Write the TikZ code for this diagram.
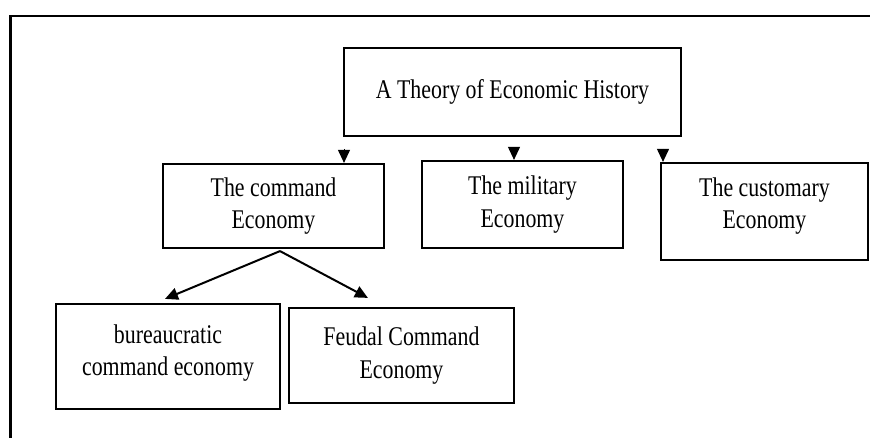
\documentclass[tikz,border=0pt]{standalone}
\usepackage{fontspec}
\setmainfont[FakeStretch=0.81]{Liberation Serif}
\usetikzlibrary{arrows.meta,calc}
\begin{document}
\begin{tikzpicture}[x=1pt,y=-1pt,
  box/.style={draw, line width=2.2pt, rectangle, inner sep=0pt, align=center,
              font=\fontsize{27}{32.5}\selectfont},
  txt/.style={align=center, inner sep=0pt, font=\fontsize{27}{32.5}\selectfont},
  tri/.style={-{Triangle[width=12pt,length=13pt]}, line width=1pt},
  link/.style={-{Triangle[width=12pt,length=13pt]}, line width=2pt},
  frameline/.style={line width=2.6pt, line join=miter}]
\useasboundingbox (0,0) rectangle (870,438);
\draw[frameline] (10.5,438) -- (10.5,16) -- (870,16);

\node[box, minimum width=337pt, minimum height=88pt] (top) at (512.5,92) {A Theory of Economic History};
\node[box, minimum width=221pt, minimum height=84pt] (cmd) at (273.5,206) {The command\\Economy};
\node[box, minimum width=201pt, minimum height=87pt] (mil) at (522.5,204.5) {The military\\Economy};
\node[box, minimum width=207pt, minimum height=97pt] (cust) at (764.5,211.5) {};
\node[txt] (custt) at (764.5,206) {The customary\\Economy};
\node[box, minimum width=224pt, minimum height=105pt] (bur) at (168,356.5) {};
\node[txt] (burt) at (168,353) {bureaucratic\\command economy};
\node[box, minimum width=225pt, minimum height=95pt] (feu) at (401.5,355.5) {Feudal Command\\Economy};

\coordinate (t1) at (344,149);
\coordinate (t2) at (514,149);
\coordinate (t3) at (663,149);
\draw[tri] (t1) -- (t1 |- cmd.north);
\draw[tri] (t2) -- (t2 |- mil.north);
\draw[tri] (t3) -- (t3 |- cust.north);

\coordinate (c0) at ($(cmd.south)+(6.5,2)$);
\draw[link] (c0) -- ($(bur.north)+(-3,-4)$);
\draw[link] (c0) -- ($(feu.north west)+(80,-9)$);
\end{tikzpicture}
\end{document}
